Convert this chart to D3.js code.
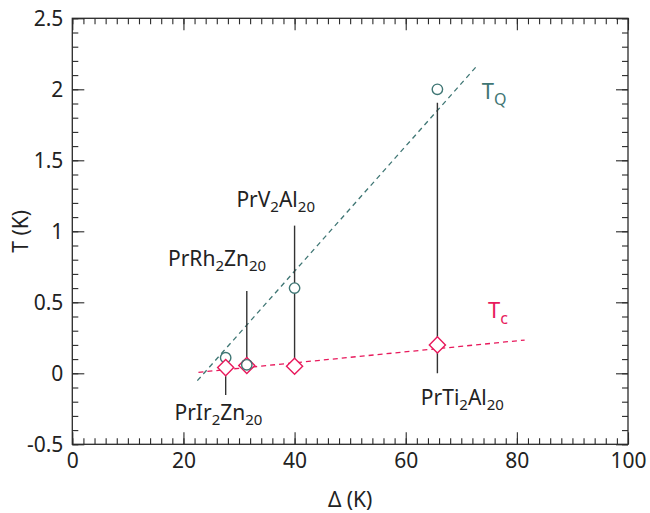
<!DOCTYPE html>
<html>
<head>
<meta charset="utf-8">
<script src="https://cdn.jsdelivr.net/npm/d3@7"></script>
<style>
  body { margin: 0; background: #fff; }
  svg text { font-family: "Noto Sans", sans-serif; fill: #222; }
</style>
</head>
<body>
<svg id="chart" width="650" height="513"></svg>
<script>
// Compounds, crystal-field gap Δ (K), quadrupolar ordering T_Q and superconducting T_c (K)
const compounds = ["PrIr2Zn20", "PrRh2Zn20", "PrV2Al20", "PrTi2Al20"];
const delta = [27.6, 31.4, 40.0, 65.7];
const TQ = [0.11, 0.06, 0.60, 2.00];
const Tc = [0.04, 0.055, 0.05, 0.20];

// Guide lines through the two series (endpoints in data units)
const tqFitX = [22.5, 72.6];
const tqFitY = [-0.052, 2.155];
const tcFitX = [22.7, 81.4];
const tcFitY = [0.007, 0.234];

// Leader lines from the compound labels to the data points
const leaderX = [27.6, 31.4, 40.0, 65.7];
const leaderY0 = [-0.02, 0.07, 0.05, 0.0];
const leaderY1 = [-0.153, 0.58, 1.04, 1.905];

// Compound labels as [text, isSubscript] pieces, anchored at (Δ, T)
const labelParts = [
  [["PrIr", false], ["2", true], ["Zn", false], ["20", true]],
  [["PrRh", false], ["2", true], ["Zn", false], ["20", true]],
  [["PrV", false], ["2", true], ["Al", false], ["20", true]],
  [["PrTi", false], ["2", true], ["Al", false], ["20", true]]
];
const labelX = [26.3, 26.05, 36.6, 70.2];
const labelY = [-0.328, 0.756, 1.171, -0.223];

// Axis ticks
const xTicks = [0, 20, 40, 60, 80, 100];
const yTicks = [-0.5, 0, 0.5, 1, 1.5, 2, 2.5];
const xMinor = d3.range(0, 100.001, 2);
const yMinor = d3.range(-0.5, 2.5001, 0.1).map(v => +v.toFixed(2));

const teal = "#3f7674";
const pink = "#e8195c";
const ink = "#2a2a2a";

const m = { left: 72.3, right: 628, top: 18.3, bottom: 444.3 };
const svg = d3.select("#chart");
const x = d3.scaleLinear().domain([0, 100]).range([m.left, m.right]);
const y = d3.scaleLinear().domain([-0.5, 2.5]).range([m.bottom, m.top]);

function styleAxis(g) {
  g.select(".domain").remove();
  g.selectAll(".tick line").attr("stroke", ink).attr("stroke-width", 1.1);
  g.selectAll(".tick text").attr("font-size", 21).attr("fill", ink)
    .style("font-family", '"Noto Sans", sans-serif');
}

// Minor ticks on all four sides (inward)
const minorSpecs = [
  [d3.axisBottom(x).tickValues(xMinor), `translate(0,${m.bottom})`],
  [d3.axisTop(x).tickValues(xMinor), `translate(0,${m.top})`],
  [d3.axisLeft(y).tickValues(yMinor), `translate(${m.left},0)`],
  [d3.axisRight(y).tickValues(yMinor), `translate(${m.right},0)`]
];
minorSpecs.forEach(([ax, tr]) => {
  const g = svg.append("g").attr("transform", tr)
    .call(ax.tickSize(-6).tickFormat(""))
    .call(styleAxis);
  g.selectAll(".tick text").remove();
});

// Major ticks with labels on bottom and left, mirrored on top and right
svg.append("g").attr("transform", `translate(0,${m.bottom})`)
  .call(d3.axisBottom(x).tickValues(xTicks).tickSize(-12).tickPadding(9).tickFormat(d => String(d)))
  .call(styleAxis);
svg.append("g").attr("transform", `translate(0,${m.top})`)
  .call(d3.axisTop(x).tickValues(xTicks).tickSize(-12).tickFormat(""))
  .call(styleAxis)
  .call(g => g.selectAll(".tick text").remove());
svg.append("g").attr("transform", `translate(${m.left},0)`)
  .call(d3.axisLeft(y).tickValues(yTicks).tickSize(-12).tickPadding(9).tickFormat(d => String(d)))
  .call(styleAxis);
svg.append("g").attr("transform", `translate(${m.right},0)`)
  .call(d3.axisRight(y).tickValues(yTicks).tickSize(-12).tickFormat(""))
  .call(styleAxis)
  .call(g => g.selectAll(".tick text").remove());

// Plot frame
svg.append("rect")
  .attr("x", m.left).attr("y", m.top)
  .attr("width", m.right - m.left).attr("height", m.bottom - m.top)
  .attr("fill", "none").attr("stroke", ink).attr("stroke-width", 1.3);

// Axis titles
svg.append("text")
  .attr("x", (m.left + m.right) / 2).attr("y", 507)
  .attr("text-anchor", "middle").attr("font-size", 21)
  .text("Δ (K)");
svg.append("text")
  .attr("transform", `translate(28,${(m.top + m.bottom) / 2}) rotate(-90)`)
  .attr("text-anchor", "middle").attr("font-size", 21)
  .text("T (K)");

// Dashed guide lines
svg.append("line")
  .attr("x1", x(tqFitX[0])).attr("y1", y(tqFitY[0]))
  .attr("x2", x(tqFitX[1])).attr("y2", y(tqFitY[1]))
  .attr("stroke", teal).attr("stroke-width", 1.3).attr("stroke-dasharray", "5,4");
svg.append("line")
  .attr("x1", x(tcFitX[0])).attr("y1", y(tcFitY[0]))
  .attr("x2", x(tcFitX[1])).attr("y2", y(tcFitY[1]))
  .attr("stroke", pink).attr("stroke-width", 1.3).attr("stroke-dasharray", "5,4");

// Leader lines
svg.append("g").selectAll("line")
  .data(leaderX)
  .join("line")
  .attr("x1", d => x(d)).attr("x2", d => x(d))
  .attr("y1", (d, i) => y(leaderY0[i])).attr("y2", (d, i) => y(leaderY1[i]))
  .attr("stroke", "#333").attr("stroke-width", 1.4);

// T_Q markers (open circles)
svg.append("g").selectAll("circle")
  .data(delta)
  .join("circle")
  .attr("cx", d => x(d)).attr("cy", (d, i) => y(TQ[i]))
  .attr("r", 5.2)
  .attr("fill", "#fff").attr("stroke", teal).attr("stroke-width", 1.4);

// T_c markers (open diamonds)
const diamond = d3.symbol().type(d3.symbolSquare).size(130);
svg.append("g").selectAll("path")
  .data(delta)
  .join("path")
  .attr("d", diamond)
  .attr("transform", (d, i) => `translate(${x(d)},${y(Tc[i])}) rotate(45)`)
  .attr("fill", "#fff").attr("stroke", pink).attr("stroke-width", 1.4);
// Keep the second circle on top of its overlapping diamond
svg.append("circle")
  .attr("cx", x(delta[1])).attr("cy", y(TQ[1])).attr("r", 5.2)
  .attr("fill", "none").attr("stroke", teal).attr("stroke-width", 1.4);

// Compound labels with subscripts
labelParts.forEach((parts, i) => {
  const t = svg.append("text")
    .attr("x", x(labelX[i])).attr("y", y(labelY[i]))
    .attr("text-anchor", "middle").attr("font-size", 21).attr("fill", ink);
  let shift = 0;
  parts.forEach(([str, isSub]) => {
    const target = isSub ? 5 : 0;
    t.append("tspan")
      .attr("font-size", isSub ? 15 : 21)
      .attr("dy", target - shift)
      .text(str);
    shift = target;
  });
});

// Series labels
const tqLabel = svg.append("text")
  .attr("x", x(73.7)).attr("y", y(1.93))
  .attr("font-size", 22).style("fill", teal);
tqLabel.append("tspan").text("T");
tqLabel.append("tspan").attr("font-size", 16).attr("dy", 6).text("Q");

const tcLabel = svg.append("text")
  .attr("x", x(74.8)).attr("y", y(0.389))
  .attr("font-size", 22).style("fill", pink);
tcLabel.append("tspan").text("T");
tcLabel.append("tspan").attr("font-size", 16).attr("dy", 6).text("c");
</script>
</body>
</html>
